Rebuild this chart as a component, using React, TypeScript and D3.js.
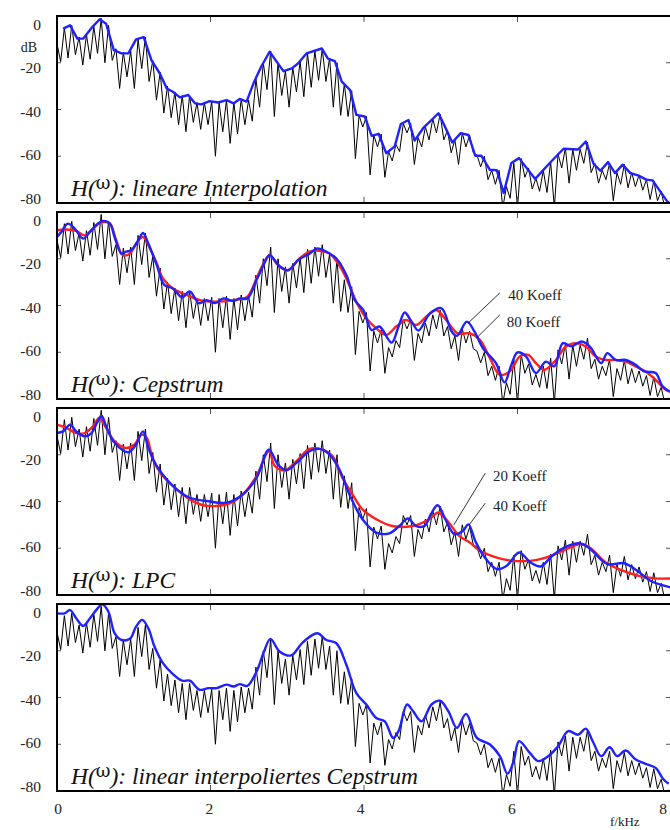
import * as d3 from "d3";

const WIDTH = 670;
const HEIGHT = 830;
const X_LEFT = 57;
const X_RIGHT = 671;
const PANEL_TOPS = [16, 212, 408, 604];
const PANEL_H = 187;

const BLUE = "#1f22ff";
const RED = "#ff1f1f";

const xTicks = [0, 2, 4, 6, 8];
const yTicks = [0, -20, -40, -60, -80];
const innerXTicks = [2, 4, 6];
const innerYTicks = [-20, -40, -60];

const titles = [
  "lineare Interpolation",
  "Cepstrum",
  "LPC",
  "linear interpoliertes Cepstrum",
];

// black harmonic spectrum, sampled every half harmonic (kHz step below)
const SPECTRUM_STEP = 0.048;
const spectrumDb = [
  -12, -19.5, -5, -18, -4, -16.5, -9, -21, -8, -18.5,
  -4.5, -16, -1, -20, -4, -19, -14, -31, -15.5, -26,
  -15, -31, -10, -22.5, -9, -28, -19, -36, -24, -41.5,
  -30, -43.5, -32.5, -46.5, -34, -49.5, -34, -45.5, -37, -48.5,
  -37, -46.5, -36.5, -60, -37, -49.5, -36, -54.5, -37, -50.5,
  -35.5, -46.5, -36, -45, -27, -39, -20, -31.5, -15, -43,
  -20, -34, -23.5, -39, -22, -32.5, -19.5, -34.5, -16, -30.5,
  -15, -27.5, -14, -28, -18, -39, -20, -42.5, -29, -43,
  -32, -61, -42.5, -47.5, -43, -68, -51, -56, -50.5, -69,
  -58, -62, -55, -58, -46, -50, -46, -63.5, -52, -56,
  -47.5, -53, -44, -50, -42, -53, -49, -58.5, -53, -63.5,
  -50, -56, -51, -58.5, -59.5, -64.5, -60, -70, -66, -72,
  -66, -82, -73, -78, -63, -82, -61, -69, -65, -74,
  -69.5, -75, -66, -75.5, -62.5, -82, -59, -65, -56.5, -71.5,
  -57, -66, -57, -63, -54, -67, -63, -71.5, -66, -70,
  -63, -79, -67, -72, -63.5, -73.5, -67, -73, -68, -74.5,
  -70, -78.5, -70.5, -79, -75, -82, -79.5, -82,
];

// panel 1: linear interpolation of the harmonic peaks
const linearEnvelope = [
  [0.08, -5.4], [0.17, -4], [0.265, -9.7], [0.34, -9.7], [0.45, -5.1], [0.556, -1.4],
  [0.64, -3.3], [0.74, -14.6], [0.84, -16], [0.93, -16], [1.03, -10], [1.13, -9],
  [1.23, -18.9], [1.34, -24.6], [1.43, -31], [1.51, -32.4], [1.6, -34.8], [1.71, -33.8],
  [1.8, -37.4], [1.88, -37.8], [1.99, -36.4], [2.1, -37], [2.21, -36], [2.3, -37.4],
  [2.38, -35.5], [2.47, -36.6], [2.56, -28.8], [2.66, -21.7], [2.77, -15.3], [2.95, -23.6],
  [3.06, -22.4], [3.14, -20.3], [3.25, -16], [3.45, -13.9], [3.53, -18.2], [3.62, -19.3],
  [3.71, -28.1], [3.82, -31.7], [3.9, -42.3], [4.01, -43], [4.1, -51.3], [4.19, -50.4],
  [4.29, -58.7], [4.4, -55.8], [4.48, -46.2], [4.58, -44.5], [4.66, -53.3], [4.77, -48],
  [4.97, -41.6], [5.05, -47], [5.15, -54.1], [5.26, -50.1], [5.36, -50.9], [5.45, -59.8],
  [5.53, -59.8], [5.64, -65.8], [5.73, -66], [5.82, -75.7], [5.92, -62.9], [6.02, -60.8],
  [6.23, -69.7], [6.42, -62.9], [6.6, -56.8], [6.79, -57.1], [6.89, -53.7], [6.99, -63.2],
  [7.08, -66.2], [7.18, -62.5], [7.27, -67.2], [7.37, -63.6], [7.47, -67.2], [7.57, -68.2],
  [7.68, -70], [7.76, -70.3], [7.95, -79.3], [8.0, -80.5],
];

// panel 2: cepstral smoothing, 80 and 40 coefficients
const cepstrum80 = [
  [0, -10.7], [0.057, -8.5], [0.14, -5], [0.23, -7.1], [0.34, -11.4], [0.43, -8.5],
  [0.53, -5], [0.6, -3.8], [0.69, -5], [0.75, -10.7], [0.84, -17.8], [0.9, -17],
  [0.97, -16.3], [1.06, -12], [1.12, -9], [1.19, -13.5], [1.3, -22.7], [1.4, -31.3],
  [1.51, -32.7], [1.63, -36.5], [1.73, -34], [1.85, -39], [1.95, -37.7], [2.06, -39],
  [2.17, -37], [2.3, -38.1], [2.38, -37], [2.48, -37], [2.6, -29.1], [2.68, -23.5],
  [2.77, -18.5], [2.9, -23.2], [3.01, -24.9], [3.14, -20.6], [3.29, -17.8], [3.39, -15.6],
  [3.51, -17], [3.64, -19.9], [3.77, -27], [3.88, -37.7], [3.99, -41.9], [4.1, -50.5],
  [4.2, -49], [4.36, -55.9], [4.45, -49], [4.53, -43], [4.62, -46.9], [4.71, -50.7],
  [4.86, -43.4], [5.01, -41.2], [5.14, -51], [5.21, -53], [5.34, -46.9], [5.44, -51.2],
  [5.55, -58.3], [5.72, -64.7], [5.83, -72.9], [5.92, -65.4], [6.0, -60.1], [6.11, -61.8],
  [6.24, -68.9], [6.37, -64], [6.48, -66], [6.59, -56.1], [6.7, -57.5], [6.83, -55.4],
  [6.89, -56.1], [6.96, -58.3], [7.09, -64.7], [7.17, -60.4], [7.28, -63.3], [7.41, -63.3],
  [7.54, -65.4], [7.65, -68.2], [7.8, -68.9], [7.89, -74.6], [8.0, -77],
];

const cepstrum40 = [
  [0, -7.8], [0.12, -7.5], [0.25, -8.1], [0.36, -10], [0.47, -7.1], [0.58, -4.3],
  [0.69, -5], [0.77, -12], [0.86, -18.5], [0.95, -17.8], [1.03, -13.5], [1.12, -10.7],
  [1.21, -15.6], [1.3, -22], [1.38, -28.4], [1.51, -32.7], [1.69, -35.5], [1.86, -37.7],
  [2.03, -38.4], [2.3, -37.7], [2.48, -36.2], [2.6, -28.4], [2.68, -22.7], [2.77, -18.5],
  [2.88, -22.7], [3.01, -24.9], [3.16, -19.9], [3.29, -17], [3.42, -16.6], [3.55, -17.8],
  [3.69, -23.5], [3.79, -29.9], [3.92, -39.8], [4.03, -45.5], [4.16, -49.8], [4.29, -52.6],
  [4.42, -49], [4.55, -46.2], [4.68, -48.3], [4.81, -44.8], [4.94, -41.9], [5.07, -46.2],
  [5.22, -51.9], [5.38, -51.9], [5.51, -54.7], [5.64, -62.5], [5.77, -69.6], [5.9, -68.2],
  [6.03, -61.8], [6.14, -61.1], [6.24, -64.7], [6.35, -67.5], [6.5, -63.3], [6.63, -57.5],
  [6.76, -56.1], [6.89, -57.5], [7.02, -61.8], [7.15, -63.3], [7.28, -63.3], [7.41, -64],
  [7.54, -66.1], [7.67, -68.2], [7.8, -71.8], [7.93, -76], [8.0, -77],
];

// panel 3: LPC, 40 and 20 coefficients
const lpc40 = [
  [0, -10.7], [0.08, -10], [0.17, -7.1], [0.25, -10], [0.36, -12.1], [0.45, -10.7],
  [0.52, -6.4], [0.58, -3.3], [0.64, -7.8], [0.75, -14.9], [0.93, -18.9], [1.03, -15.6],
  [1.12, -10], [1.19, -17.1], [1.3, -24.9], [1.43, -30.6], [1.56, -34.8], [1.73, -38.4],
  [1.95, -39.8], [2.21, -40.5], [2.42, -37], [2.6, -29.9], [2.76, -17.8], [2.88, -24.2],
  [2.99, -26.6], [3.12, -23.5], [3.29, -18.5], [3.42, -17.5], [3.55, -19.9], [3.68, -26.3],
  [3.81, -37], [3.98, -47.6], [4.16, -53.3], [4.33, -53.6], [4.46, -50.5], [4.57, -47.3],
  [4.68, -50.5], [4.79, -50.5], [4.87, -45.5], [4.96, -41.6], [5.07, -48.3], [5.18, -54],
  [5.29, -52.5], [5.36, -49.8], [5.45, -56.9], [5.56, -63.3], [5.73, -68.9], [5.86, -67.5],
  [6.02, -61.8], [6.17, -66.1], [6.3, -67.8], [6.45, -63.3], [6.61, -59.7], [6.82, -57.9],
  [6.95, -60.4], [7.17, -66.8], [7.39, -66.4], [7.56, -69.6], [7.73, -73.9], [7.91, -76],
  [8.0, -76.8],
];

const lpc20 = [
  [0, -7.1], [0.12, -8.5], [0.25, -10.7], [0.36, -10.7], [0.47, -7.8], [0.55, -4.3],
  [0.64, -8.5], [0.75, -14.2], [0.9, -17.1], [1.01, -15.6], [1.1, -11.4], [1.17, -12.8],
  [1.25, -22], [1.38, -29.1], [1.56, -34.8], [1.73, -39.1], [1.9, -41.6], [2.08, -41.9],
  [2.25, -40.8], [2.42, -37], [2.6, -29.1], [2.76, -18.5], [2.84, -24.9], [2.97, -26.6],
  [3.12, -22.7], [3.29, -17.5], [3.46, -17.8], [3.59, -20.6], [3.72, -29.9], [3.85, -37],
  [3.98, -43.4], [4.16, -47.6], [4.37, -50.5], [4.63, -50.5], [4.85, -47.6], [4.96, -44.8],
  [5.07, -47.6], [5.24, -54.7], [5.38, -57.6], [5.51, -61.1], [5.73, -64], [5.94, -65.4],
  [6.16, -65.4], [6.37, -64], [6.59, -61.1], [6.81, -58.3], [6.94, -59.7], [7.15, -66.1],
  [7.37, -69.6], [7.58, -71.8], [7.8, -72.9], [8.0, -72.9],
];

// panel 4: linearly interpolated cepstrum
const linCepstrum = [
  [0, -4], [0.1, -4], [0.17, -2.6], [0.25, -6.1], [0.34, -9.4], [0.43, -6.1],
  [0.51, -2.6], [0.59, -0.1], [0.67, -3.3], [0.75, -12.5], [0.84, -15.4], [0.95, -14.9],
  [1.03, -9.7], [1.11, -6.8], [1.19, -10.4], [1.27, -18.2], [1.38, -25.3], [1.51, -30],
  [1.63, -32.8], [1.73, -32.8], [1.86, -36.7], [1.97, -36], [2.08, -36], [2.21, -34.5],
  [2.3, -35.3], [2.38, -34.3], [2.48, -35], [2.6, -28.9], [2.69, -21], [2.78, -14.9],
  [2.9, -20.3], [3.05, -22], [3.2, -16.5], [3.39, -12.5], [3.51, -15.4], [3.64, -16.8],
  [3.77, -26], [3.9, -38.1], [4.03, -43], [4.16, -48.8], [4.27, -50.2], [4.38, -57.3],
  [4.45, -54.4], [4.56, -43], [4.64, -45.9], [4.75, -50.2], [4.88, -43], [4.99, -41.4],
  [5.1, -45.9], [5.21, -53], [5.33, -47], [5.47, -57.3], [5.64, -60.1], [5.77, -65.1],
  [5.87, -72.6], [5.95, -67.2], [6.02, -58.7], [6.16, -63.7], [6.27, -67.2], [6.4, -65.1],
  [6.53, -60.8], [6.66, -54.4], [6.79, -55.9], [6.89, -53.3], [6.98, -58.7], [7.09, -65.1],
  [7.2, -61.3], [7.3, -65.1], [7.41, -62.7], [7.54, -66.5], [7.67, -68.4], [7.8, -70.1],
  [7.9, -75], [7.97, -76.9],
];

const panelCurves = [
  [{ data: linearEnvelope, color: BLUE, smooth: false }],
  [
    { data: cepstrum40, color: RED, smooth: true },
    { data: cepstrum80, color: BLUE, smooth: true },
  ],
  [
    { data: lpc20, color: RED, smooth: true },
    { data: lpc40, color: BLUE, smooth: true },
  ],
  [{ data: linCepstrum, color: BLUE, smooth: true }],
];

// annotations in data units: label anchor and leader line ends
const panelNotes = [
  [],
  [
    { text: "40 Koeff", at: [5.88, -37.6], from: [5.77, -34.6], to: [5.36, -47.4] },
    { text: "80 Koeff", at: [5.86, -49.1], from: [5.77, -44], to: [5.47, -53.8] },
  ],
  [
    { text: "20 Koeff", at: [5.68, -31.2], from: [5.58, -27.9], to: [5.17, -50] },
    { text: "40 Koeff", at: [5.68, -44], from: [5.58, -40.7], to: [5.37, -50] },
  ],
  [],
];

const spectrum = spectrumDb.map((v, i) => [i * SPECTRUM_STEP, v]);

const xScale = d3.scaleLinear().domain([0, 8]).range([X_LEFT, X_RIGHT]);
const xLabelScale = d3.scaleLinear().domain([0, 8]).range([58, 663]);

const Panel = ({ idx }: { idx: number }) => {
  const top = PANEL_TOPS[idx];
  const bottom = top + PANEL_H;
  const yScale = d3.scaleLinear().domain([-80, 0]).range([bottom, top]);
  const yLabelScale = d3.scaleLinear().domain([-80, 0]).range([bottom - 4.5, top + 8.5]);

  const line = d3
    .line<number[]>()
    .x((d) => xScale(d[0]))
    .y((d) => yScale(d[1]));
  const smoothLine = d3
    .line<number[]>()
    .x((d) => xScale(d[0]))
    .y((d) => yScale(d[1]))
    .curve(d3.curveCatmullRom.alpha(0.5));

  const clipId = `clip-${idx}`;

  return (
    <g>
      <defs>
        <clipPath id={clipId}>
          <rect x={X_LEFT} y={top} width={X_RIGHT - X_LEFT} height={PANEL_H} />
        </clipPath>
      </defs>

      <g clipPath={`url(#${clipId})`}>
        <path d={line(spectrum) ?? ""} fill="none" stroke="#000" strokeWidth={1} />
        {panelCurves[idx].map((c, i) => (
          <path
            key={i}
            d={(c.smooth ? smoothLine(c.data) : line(c.data)) ?? ""}
            fill="none"
            stroke={c.color}
            strokeWidth={2.4}
            strokeLinejoin="round"
          />
        ))}
      </g>

      {/* ticks */}
      {innerXTicks.map((t) => (
        <g key={`xt${t}`} stroke="#555" strokeWidth={1}>
          <line x1={xScale(t)} x2={xScale(t)} y1={top} y2={top + 6} />
          <line x1={xScale(t)} x2={xScale(t)} y1={bottom} y2={bottom - 6} />
        </g>
      ))}
      {innerYTicks.map((t) => (
        <g key={`yt${t}`} stroke="#555" strokeWidth={1}>
          <line x1={X_LEFT} x2={X_LEFT + 4} y1={yScale(t)} y2={yScale(t)} />
          <line x1={X_RIGHT} x2={X_RIGHT - 5} y1={yScale(t)} y2={yScale(t)} />
        </g>
      ))}

      <rect
        x={X_LEFT}
        y={top}
        width={X_RIGHT - X_LEFT}
        height={PANEL_H}
        fill="none"
        stroke="#000"
        strokeWidth={2}
      />

      {yTicks.map((t) => (
        <text
          key={`yl${t}`}
          x={41}
          y={yLabelScale(t) + 5}
          textAnchor="end"
          fontFamily="Liberation Serif"
          fontSize={15.5}
          fill="#222"
        >
          {t}
        </text>
      ))}
      {idx === 0 && (
        <text x={37} y={52} textAnchor="end" fontFamily="Liberation Serif" fontSize={14} fill="#222">
          dB
        </text>
      )}

      {panelNotes[idx].map((n, i) => (
        <g key={`n${i}`}>
          <line
            x1={xScale(n.from[0])}
            y1={yScale(n.from[1])}
            x2={xScale(n.to[0])}
            y2={yScale(n.to[1])}
            stroke="#000"
            strokeWidth={0.8}
          />
          <text
            x={xScale(n.at[0])}
            y={yScale(n.at[1])}
            fontFamily="Liberation Serif"
            fontSize={15}
            fill="#222"
          >
            {n.text}
          </text>
        </g>
      ))}

      <text x={71} y={bottom - 7} fontFamily="Liberation Serif" fontSize={23.5} fill="#111">
        <tspan fontStyle="italic">H(</tspan>
        <tspan dy={-7} fontSize={18} fontFamily="DejaVu Serif">
          ω
        </tspan>
        <tspan dy={7} fontStyle="italic">
          ): {titles[idx]}
        </tspan>
      </text>
    </g>
  );
};

export default function App() {
  const lastBottom = PANEL_TOPS[3] + PANEL_H;
  return (
    <svg
      width={WIDTH}
      height={HEIGHT}
      style={{ position: "absolute", left: 0, top: 0, background: "#fff" }}
    >
      {PANEL_TOPS.map((_, i) => (
        <Panel key={i} idx={i} />
      ))}
      {xTicks.map((t) => (
        <text
          key={`xl${t}`}
          x={xLabelScale(t)}
          y={lastBottom + 23}
          textAnchor="middle"
          fontFamily="Liberation Serif"
          fontSize={15.5}
          fill="#222"
        >
          {t}
        </text>
      ))}
      <text x={610} y={lastBottom + 35} fontFamily="Liberation Serif" fontSize={13} fill="#222">
        f/kHz
      </text>
    </svg>
  );
}
